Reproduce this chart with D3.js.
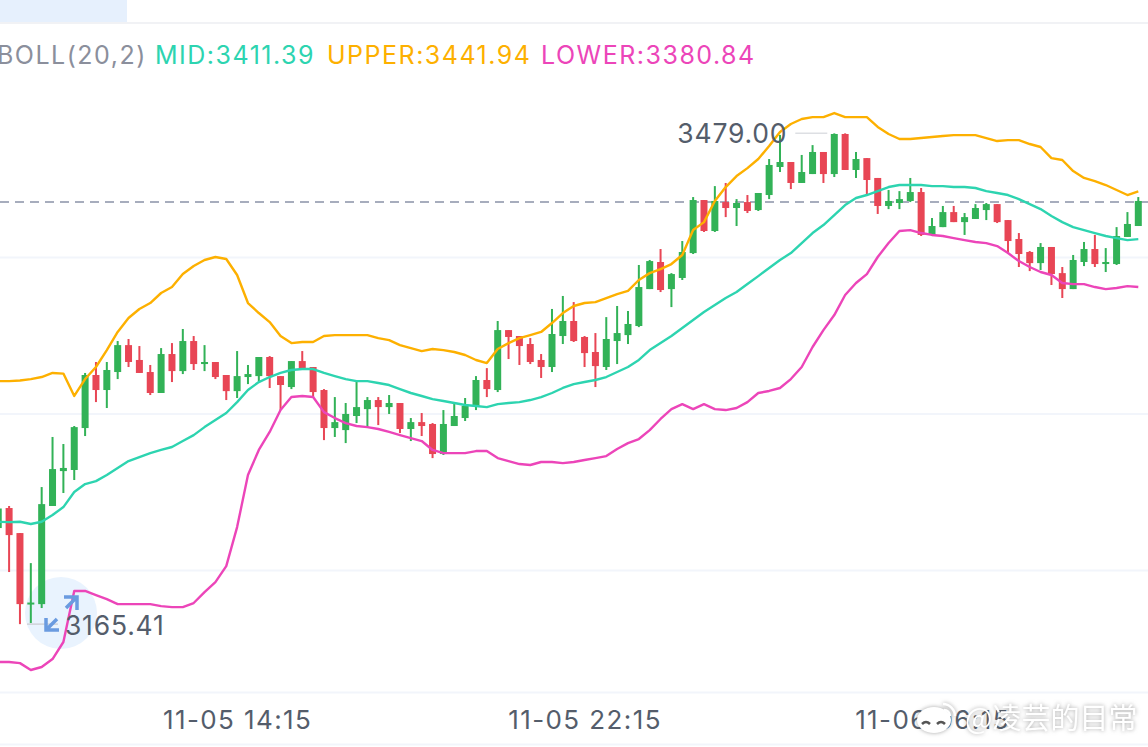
<!DOCTYPE html>
<html>
<head>
<meta charset="utf-8">
<script src="https://cdn.jsdelivr.net/npm/d3@7"></script>
<style>
  html, body { margin: 0; padding: 0; background: #fff; overflow: hidden; }
  text { font-family: Inter, Roboto, sans-serif; }
</style>
</head>
<body>
<svg id="chart" width="1148" height="747"></svg>
<script>
// 15 minute bars, first entry is the one cut off by the left edge
const firstIndex = -1;
const opens = [3226.8,3239.6,3223.6,3178.2,3178.2,3240.9,3263.2,3263.9,3290.7,3324.6,3315.0,3326.5,3343.7,3334.2,3326.5,3313.1,3338.0,3327.1,3346.3,3331.6,3332.9,3324.6,3314.3,3323.3,3323.9,3336.1,3323.9,3316.9,3333.5,3329.7,3315.0,3290.7,3289.4,3298.4,3302.8,3308.6,3304.1,3306.7,3290.1,3294.5,3293.3,3274.1,3292.0,3297.1,3304.8,3321.4,3315.0,3353.3,3349.5,3344.4,3334.2,3329.7,3349.5,3359.1,3348.9,3339.3,3329.7,3346.3,3350.1,3355.9,3379.5,3396.8,3379.5,3386.6,3402.5,3436.4,3416.6,3435.1,3431.3,3435.1,3430.0,3439.6,3457.5,3460.7,3447.3,3453.0,3467.1,3453.0,3478.6,3455.6,3463.2,3450.5,3432.6,3434.5,3435.8,3441.5,3414.1,3419.1,3428.7,3422.3,3424.3,3430.0,3433.8,3423.6,3411.5,3403.2,3396.1,3406.4,3389.7,3379.5,3396.8,3405.1,3395.5,3395.5,3412.8,3419.8];
const highs = [3241.5,3240.9,3223.6,3204.4,3253.0,3285.0,3280.5,3292.0,3325.9,3332.9,3332.9,3346.3,3347.6,3343.1,3331.0,3341.8,3345.0,3354.0,3349.5,3343.7,3332.9,3324.6,3339.9,3331.0,3336.1,3336.7,3323.9,3333.5,3339.9,3329.7,3315.6,3310.5,3306.7,3320.7,3310.5,3310.5,3311.8,3306.7,3297.1,3300.3,3293.9,3302.2,3307.3,3309.9,3323.9,3329.0,3359.1,3353.3,3349.5,3348.2,3338.0,3366.8,3375.1,3371.2,3349.5,3351.4,3361.6,3368.7,3365.5,3394.9,3398.1,3405.1,3389.7,3410.2,3438.3,3436.4,3445.3,3447.3,3437.0,3439.6,3440.9,3462.6,3478.0,3460.7,3465.2,3471.5,3467.1,3479.0,3479.0,3467.1,3463.2,3450.5,3442.8,3442.1,3450.5,3444.1,3424.9,3432.6,3432.6,3428.1,3433.8,3434.5,3433.8,3423.6,3415.3,3403.8,3408.9,3406.4,3393.6,3401.3,3409.6,3414.1,3405.7,3419.1,3428.7,3438.3];
const lows = [3225.5,3198.7,3165.41,3166.1,3175.7,3240.9,3249.2,3257.5,3285.6,3307.3,3303.5,3322.0,3329.7,3325.9,3311.8,3313.1,3320.1,3325.2,3327.8,3327.1,3322.0,3308.6,3309.9,3318.8,3320.7,3316.3,3302.2,3315.6,3329.0,3310.5,3283.0,3285.0,3281.1,3293.9,3291.3,3292.6,3299.7,3287.5,3282.4,3285.6,3271.5,3273.5,3292.0,3295.2,3302.2,3310.5,3313.7,3334.8,3331.0,3331.6,3322.7,3326.5,3344.4,3345.7,3329.7,3316.9,3327.8,3331.6,3344.4,3355.2,3379.5,3377.6,3368.0,3385.3,3401.9,3416.0,3416.0,3425.5,3419.8,3428.1,3429.4,3437.0,3454.3,3443.4,3447.3,3453.0,3447.3,3451.1,3455.6,3450.5,3439.6,3427.5,3430.6,3430.6,3435.1,3413.4,3413.4,3419.1,3422.3,3414.1,3424.3,3423.6,3421.7,3403.2,3393.6,3391.0,3391.7,3382.1,3373.8,3379.5,3394.2,3393.6,3390.4,3394.9,3412.8,3419.8];
const closes = [3239.3,3222.3,3178.2,3179.2,3242.1,3264.5,3265.2,3291.3,3324.6,3315.0,3327.8,3343.7,3332.9,3325.9,3313.1,3338.0,3327.1,3346.3,3331.6,3332.9,3323.3,3314.3,3323.9,3325.2,3336.1,3323.9,3318.2,3333.5,3329.0,3313.7,3290.7,3294.5,3299.7,3304.1,3308.6,3304.1,3306.7,3290.1,3294.5,3292.0,3274.1,3293.3,3298.4,3304.8,3321.4,3315.6,3353.3,3348.9,3343.1,3332.9,3329.7,3350.8,3359.1,3346.3,3338.6,3330.3,3347.6,3351.4,3357.2,3380.8,3397.4,3378.9,3389.1,3403.2,3436.4,3416.6,3435.8,3431.3,3434.5,3429.4,3440.9,3458.8,3460.7,3447.3,3454.3,3467.1,3453.0,3478.6,3455.6,3462.6,3449.2,3432.6,3435.8,3437.0,3441.5,3414.1,3419.8,3428.7,3422.3,3425.5,3431.3,3433.8,3422.3,3410.2,3401.9,3396.1,3406.4,3389.1,3379.5,3398.1,3405.1,3395.5,3396.8,3413.4,3421.1,3435.8];

const upper = [3320.7,3320.7,3321.1,3322.0,3323.3,3325.9,3325.5,3311.2,3322.0,3329.7,3340.5,3352.1,3361.0,3366.8,3370.6,3377.0,3380.8,3389.1,3394.2,3398.1,3400.0,3398.7,3388.5,3370.6,3364.2,3358.4,3349.5,3345.0,3345.7,3345.7,3349.5,3350.1,3350.1,3350.1,3350.1,3348.2,3346.9,3343.7,3341.8,3339.9,3341.2,3340.5,3339.3,3337.4,3334.2,3332.2,3341.2,3345.0,3348.2,3350.1,3352.1,3357.8,3364.2,3368.7,3370.6,3371.2,3373.8,3376.3,3378.3,3385.3,3389.7,3392.3,3395.5,3401.3,3417.2,3422.3,3435.8,3444.7,3451.7,3456.8,3462.6,3470.9,3479.9,3485.0,3488.2,3489.4,3489.4,3492.0,3489.4,3489.4,3489.4,3483.1,3478.6,3475.4,3475.4,3476.0,3476.7,3477.3,3477.9,3477.9,3477.9,3476.0,3474.1,3474.7,3474.7,3472.2,3470.3,3463.2,3462.0,3454.9,3450.5,3448.5,3446.0,3442.8,3439.6,3441.94];
const mid = [3230.8,3230.6,3230.8,3229.4,3230.8,3235.1,3240.2,3249.8,3254.9,3256.8,3260.7,3265.2,3269.6,3272.2,3274.7,3276.7,3278.6,3282.4,3286.2,3291.3,3295.8,3300.3,3307.3,3315.0,3320.1,3323.3,3325.9,3327.8,3328.4,3328.4,3325.9,3323.9,3322.0,3320.7,3320.7,3319.5,3318.2,3315.6,3313.1,3311.2,3309.2,3308.0,3306.7,3305.4,3304.8,3304.1,3306.0,3306.7,3307.3,3308.6,3310.5,3313.1,3316.3,3318.8,3320.1,3321.4,3323.3,3326.5,3329.7,3334.2,3340.5,3345.0,3349.5,3354.6,3359.7,3364.8,3369.3,3373.8,3377.6,3382.7,3387.8,3393.0,3398.1,3402.5,3408.9,3415.3,3420.4,3426.8,3433.2,3437.7,3439.6,3442.1,3444.7,3446.0,3446.0,3446.0,3445.3,3445.3,3444.7,3444.7,3444.1,3442.1,3440.9,3439.6,3437.0,3433.8,3430.6,3426.2,3422.3,3419.1,3417.2,3415.3,3413.4,3412.1,3410.8,3411.39];
const lower = [3141.2,3141.2,3140.5,3136.1,3138.0,3143.1,3154.0,3186.6,3186.6,3184.0,3181.4,3178.2,3178.2,3178.2,3178.2,3176.9,3176.3,3176.3,3178.9,3185.9,3192.3,3202.5,3227.4,3260.7,3276.7,3288.2,3302.2,3310.5,3311.2,3310.5,3300.9,3297.1,3293.9,3292.0,3291.3,3290.1,3288.2,3286.2,3284.3,3282.4,3276.7,3274.7,3274.7,3274.7,3276.0,3276.0,3271.5,3269.6,3267.7,3267.1,3269.0,3269.0,3268.3,3269.0,3270.3,3271.5,3272.8,3277.3,3281.1,3283.7,3289.4,3296.5,3302.8,3306.0,3302.8,3306.0,3302.8,3302.2,3303.5,3307.3,3313.1,3314.4,3316.3,3322.0,3329.7,3342.5,3353.3,3362.9,3375.7,3383.4,3389.1,3400.0,3408.9,3416.6,3417.2,3415.3,3414.1,3413.4,3412.1,3410.8,3409.6,3408.9,3407.0,3402.5,3397.4,3393.6,3390.4,3388.5,3383.4,3382.7,3382.7,3380.8,3379.5,3380.2,3381.4,3380.84];

const gridPrices = [3200, 3300, 3400];
const tickBars = [21, 53, 85];
const tickLabels = ["11-05 14:15", "11-05 22:15", "11-06 06:15"];
const lastPrice = 3435.1;
const maxMark = {bar: 76, price: 3479.0, label: "3479.00"};
const minMark = {bar: 1, price: 3165.41, label: "3165.41"};
const legendNames = ["BOLL(20,2)", "MID:3411.39", "UPPER:3441.94", "LOWER:3380.84"];

const WIDTH = 1148;
const HEIGHT = 747;
const UP = "#32b257";
const DOWN = "#e84655";
const INK = "#545d6b";
const RULE = "#f2f5fb";

const x = d3.scaleLinear().domain([0, 104]).range([9.1, 1138.3]);
const y = d3.scaleLinear().domain([3200, 3400]).range([570, 257]);

const svg = d3.select("#chart");

// tab highlight + frame rules
svg.append("rect").attr("width", 127).attr("height", 23).attr("fill", "#e6f0fd");
[23, 692.5, 744.5].forEach((ry) => {
  svg.append("line").attr("x1", 0).attr("x2", WIDTH).attr("y1", ry).attr("y2", ry)
    .attr("stroke", ry === 23 ? "#f1f2f5" : RULE).attr("stroke-width", 2);
});

// grid
const grid = svg.append("g").call(d3.axisLeft(y).tickValues(gridPrices).tickSize(-WIDTH).tickFormat(""));
grid.select(".domain").remove();
grid.selectAll("line").attr("stroke", RULE).attr("stroke-width", 2);

// x axis labels
const axis = svg.append("g").attr("transform", "translate(0,729)")
  .call(d3.axisBottom(x).tickValues(tickBars).tickSize(0).tickPadding(0)
    .tickFormat((d, i) => tickLabels[i]));
axis.select(".domain").remove();
axis.selectAll("text").attr("dy", 0).attr("y", 0).attr("fill", INK)
  .attr("font-size", 26).attr("letter-spacing", 1.4).style("font-family", "Inter, Roboto, sans-serif");

// highlight disc sits behind the candles
svg.append("circle").attr("cx", 61).attr("cy", 613).attr("r", 36).attr("fill", "#e9f3fe");

// last price line
svg.append("line").attr("x1", 0).attr("x2", WIDTH).attr("y1", y(lastPrice)).attr("y2", y(lastPrice))
  .attr("stroke", "#8a93a8").attr("stroke-width", 1.5).attr("stroke-dasharray", "9 6");

// candles
const bars = opens.map((o, i) => ({bar: firstIndex + i, o, h: highs[i], l: lows[i], c: closes[i]}));
const candle = svg.append("g").selectAll("g").data(bars).join("g")
  .attr("fill", (d) => (d.c >= d.o ? UP : DOWN));
candle.append("rect")
  .attr("x", (d) => x(d.bar) - 1)
  .attr("width", 2)
  .attr("y", (d) => y(d.h))
  .attr("height", (d) => y(d.l) - y(d.h));
candle.append("rect")
  .attr("x", (d) => x(d.bar) - 3.5)
  .attr("width", 7)
  .attr("y", (d) => y(Math.max(d.o, d.c)))
  .attr("height", (d) => Math.max(2, Math.abs(y(d.o) - y(d.c))));

// bollinger lines
const line = d3.line().x((d, i) => x(firstIndex + i)).y((d) => y(d));
[[upper, "#fdb000"], [mid, "#2dd4b0"], [lower, "#ec45b9"]].forEach(([values, color]) => {
  svg.append("path").datum(values).attr("d", line)
    .attr("fill", "none").attr("stroke", color).attr("stroke-width", 2.4).attr("stroke-linejoin", "round");
});

// high / low marks
svg.append("line").attr("x1", x(maxMark.bar) - 39).attr("x2", x(maxMark.bar) - 7)
  .attr("y1", y(maxMark.price)).attr("y2", y(maxMark.price)).attr("stroke", "#dddfe3").attr("stroke-width", 1.5);
svg.append("text").attr("x", x(maxMark.bar) - 47).attr("y", y(maxMark.price) + 10).attr("text-anchor", "end")
  .attr("fill", INK).attr("font-size", 26.5).attr("letter-spacing", 0.8).text(maxMark.label);
svg.append("line").attr("x1", x(minMark.bar) + 7).attr("x2", x(minMark.bar) + 38)
  .attr("y1", y(minMark.price)).attr("y2", y(minMark.price)).attr("stroke", "#cfd2d8").attr("stroke-width", 1.5);
svg.append("text").attr("x", x(minMark.bar) + 45).attr("y", y(minMark.price) + 11)
  .attr("fill", INK).attr("font-size", 26.5).attr("letter-spacing", 0.8).text(minMark.label);

// expand arrows on the disc
svg.append("path").attr("d", "M64 597H77V610M77 597L66 608M46 618V630H59M46 630L57 619")
  .attr("fill", "none").attr("stroke", "#6a9be0").attr("stroke-width", 3.5);

// legend
const legendX = [-3, 155, 327, 541];
const legendColors = ["#8b8f9c", "#2dd4b0", "#fdb000", "#ec45b9"];
svg.append("g").selectAll("text").data(legendNames).join("text")
  .attr("x", (d, i) => legendX[i]).attr("y", 64)
  .attr("fill", (d, i) => legendColors[i]).attr("font-size", 25).attr("letter-spacing", 1.5).text((d) => d);

// weibo watermark
const mark = svg.append("g").style("filter", "drop-shadow(0 0 2px rgba(90,90,90,.55))");
mark.append("ellipse").attr("cx", 934).attr("cy", 720).attr("rx", 17).attr("ry", 13).attr("fill", "#fff");
mark.append("path").attr("d", "M922 724Q926 720 930 724M937 724Q941 720 945 724")
  .attr("fill", "none").attr("stroke", "#555").attr("stroke-width", 2.5);
mark.append("path").attr("d", "M943 704A12 12 0 0 1 955 716M944 710A6 6 0 0 1 950 716")
  .attr("fill", "none").attr("stroke", "#fff").attr("stroke-width", 2.5);
mark.append("text").attr("x", 965).attr("y", 729).attr("fill", "#fff").attr("font-size", 29)
  .style("font-family", '"Noto Sans CJK SC", sans-serif').text("@凌芸的目常");
</script>
</body>
</html>
